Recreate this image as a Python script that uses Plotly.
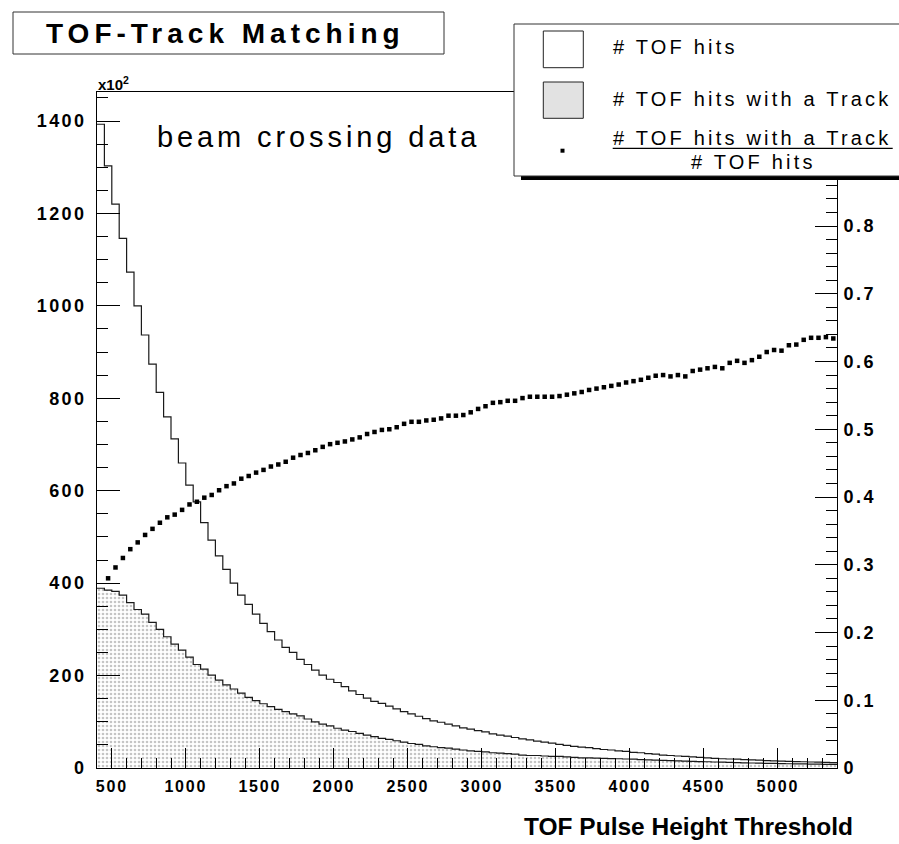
import plotly.graph_objects as go

# ---------------- data ----------------
bin_low = 400          # first bin lower edge
bin_width = 50         # bin width
n_bins = 100

# number of TOF hits per threshold bin (units of 10^2)
tof_hits = [
    1393, 1303, 1220, 1146, 1073, 1000, 937, 874, 813, 760,
    712, 660, 612, 576, 531, 493, 459, 430, 400, 374,
    354, 333, 313, 295, 277, 261, 250, 235, 224, 212,
    201, 192, 185, 176, 167, 159, 151, 144, 140, 134,
    128, 122, 117, 112, 107, 102, 99, 95, 91, 87,
    84, 81, 78, 74, 71, 69, 66, 63, 61, 58,
    56, 54, 51, 49, 47, 45, 44, 42, 40, 39,
    37, 36, 34, 33, 31, 30, 28, 27, 26, 25,
    24, 23, 22, 21, 20, 19.5, 19, 18, 17.5, 17,
    16, 15.5, 15, 14.5, 14, 13.5, 13, 12.5, 12, 11.5,
]

# number of TOF hits with a matched track (units of 10^2)
tof_hits_track = [
    389, 385, 382, 374, 358, 343, 333, 315, 300, 284,
    268, 255, 240, 224, 214, 201, 190, 180, 171, 162,
    153, 146, 139, 133, 127, 122, 117, 113, 106, 100,
    95, 91, 86, 82, 79, 75, 71, 68, 64, 62,
    59, 56, 53, 51, 48, 46, 44, 43, 41, 39,
    37, 36, 35, 33, 32, 31, 30, 28, 27, 27,
    26, 25, 25, 24, 23, 22, 22, 21.5, 21, 20.5,
    20, 19.5, 19, 18, 17.5, 17, 16.5, 16, 15.5, 15,
    14.5, 14, 13.5, 13, 12.5, 12, 11.5, 11, 10.8, 10.5,
    10, 9.8, 9.5, 9.2, 9, 8.8, 8.5, 8.2, 8, 7.8,
]

# ratio (# hits with a track / # hits), first bin has no point
match_ratio = [
    None, 0.280, 0.296, 0.310, 0.323, 0.333, 0.344, 0.353, 0.362, 0.370,
    0.374, 0.381, 0.389, 0.393, 0.399, 0.403, 0.410, 0.416, 0.420, 0.427,
    0.431, 0.436, 0.440, 0.445, 0.448, 0.452, 0.458, 0.462, 0.465, 0.469,
    0.474, 0.478, 0.480, 0.482, 0.485, 0.488, 0.493, 0.496, 0.499, 0.500,
    0.503, 0.508, 0.511, 0.511, 0.513, 0.514, 0.516, 0.520, 0.520, 0.521,
    0.525, 0.530, 0.534, 0.539, 0.540, 0.542, 0.542, 0.546, 0.548, 0.548,
    0.548, 0.548, 0.549, 0.551, 0.553, 0.555, 0.558, 0.560, 0.562, 0.564,
    0.566, 0.569, 0.571, 0.573, 0.576, 0.579, 0.580, 0.578, 0.580, 0.578,
    0.586, 0.588, 0.590, 0.592, 0.590, 0.598, 0.601, 0.598, 0.602, 0.607,
    0.614, 0.617, 0.616, 0.624, 0.625, 0.632, 0.635, 0.635, 0.636, 0.634,
]

x_tick_values = [500, 1000, 1500, 2000, 2500, 3000, 3500, 4000, 4500, 5000]
y_tick_values = [0, 200, 400, 600, 800, 1000, 1200, 1400]
y2_tick_values = [0, 0.1, 0.2, 0.3, 0.4, 0.5, 0.6, 0.7, 0.8, 0.9]
y2_tick_labels = ["0", "0.1", "0.2", "0.3", "0.4", "0.5", "0.6", "0.7", "0.8", "0.9"]

# ---------------- figure ----------------
W, H = 899, 844
L, R, T, B = 97, 837, 92, 768
FONT = "Liberation Sans"


def X(px):
    return (px - L) / (R - L)


def Y(py):
    return (B - py) / (B - T)


def sp(text, ls):
    return f'<span style="letter-spacing:{ls}px">{text}</span>'


edges = [bin_low + bin_width * i for i in range(n_bins + 1)]
centers = [bin_low + bin_width * (i + 0.5) for i in range(n_bins)]

fig = go.Figure()
fig.add_trace(go.Scatter(
    x=edges, y=tof_hits_track + [tof_hits_track[-1]], mode="lines",
    line=dict(shape="hv", color="#1a1a1a", width=1.2),
    fill="tozeroy", fillcolor="white",
    fillpattern=dict(shape=".", fgcolor="#8c8c8c", bgcolor="white", size=4, solidity=0.35),
    hoverinfo="skip",
))
fig.add_trace(go.Scatter(
    x=edges, y=tof_hits + [tof_hits[-1]], mode="lines",
    line=dict(shape="hv", color="#1a1a1a", width=1.2), hoverinfo="skip",
))
fig.add_trace(go.Scatter(
    x=centers, y=match_ratio, mode="markers", yaxis="y2",
    marker=dict(symbol="square", size=4.5, color="black", line=dict(width=0)),
    hoverinfo="skip",
))

tickfont = dict(family=FONT, size=18, color="black", weight="bold")

fig.update_layout(
    width=W, height=H,
    margin=dict(l=L, r=W - R, t=T, b=H - B),
    paper_bgcolor="white", plot_bgcolor="white",
    showlegend=False,
    xaxis=dict(
        range=[400, 5400], tickmode="array", tickvals=x_tick_values,
        ticktext=[sp(str(v), 1.8) for v in x_tick_values],
        ticks="inside", ticklen=20, tickwidth=1, tickcolor="black",
        minor=dict(tickmode="array", tickvals=list(range(400, 5401, 100)),
                   ticks="inside", ticklen=10, tickwidth=1, tickcolor="black"),
        showline=True, linecolor="black", linewidth=1, mirror=True,
        showgrid=False, zeroline=False,
        tickfont=dict(family=FONT, size=16, color="black", weight="bold"),
        ticklabelstandoff=4,
    ),
    yaxis=dict(
        range=[0, 1462.8], tickmode="array", tickvals=y_tick_values,
        ticktext=[sp(str(v), 2.4) for v in y_tick_values],
        ticks="inside", ticklen=23, tickwidth=1, tickcolor="black",
        minor=dict(tickmode="array", tickvals=list(range(0, 1451, 50)),
                   ticks="inside", ticklen=11, tickwidth=1, tickcolor="black"),
        showline=True, linecolor="black", linewidth=1,
        showgrid=False, zeroline=False, tickfont=tickfont,
        ticklabelstandoff=6,
    ),
    yaxis2=dict(
        range=[0, 0.9978], overlaying="y", side="right", tickmode="array",
        tickvals=y2_tick_values, ticktext=[sp(t, 2.4) for t in y2_tick_labels],
        ticks="inside", ticklen=22, tickwidth=1, tickcolor="black",
        minor=dict(tickmode="array", tickvals=[i * 0.02 for i in range(50)],
                   ticks="inside", ticklen=11, tickwidth=1, tickcolor="black"),
        showline=True, linecolor="black", linewidth=1,
        showgrid=False, zeroline=False, tickfont=tickfont,
        ticklabelstandoff=2,
    ),
)

shapes = []
# title box
shapes.append(dict(type="rect", xref="paper", yref="paper", x0=X(13), x1=X(444), y0=Y(12), y1=Y(54),
                   line=dict(color="#333", width=1), fillcolor="white", layer="above"))
# legend shadow and box
shapes.append(dict(type="rect", xref="paper", yref="paper", x0=X(521), x1=X(910), y0=Y(180), y1=Y(176),
                   line=dict(width=0), fillcolor="black", layer="above"))
shapes.append(dict(type="rect", xref="paper", yref="paper", x0=X(514), x1=X(910), y0=Y(176), y1=Y(24),
                   line=dict(color="#333", width=1), fillcolor="white", layer="above"))
# legend symbols
shapes.append(dict(type="rect", xref="paper", yref="paper", x0=X(543.3), x1=X(583.3), y0=Y(67.7), y1=Y(31),
                   line=dict(color="#222", width=1), fillcolor="white", layer="above"))
shapes.append(dict(type="rect", xref="paper", yref="paper", x0=X(543.3), x1=X(583.3), y0=Y(118.3), y1=Y(82),
                   line=dict(color="#222", width=1), fillcolor="#e2e2e2", layer="above"))
shapes.append(dict(type="rect", xref="paper", yref="paper", x0=X(560.5), x1=X(564.5), y0=Y(152.7), y1=Y(148.7),
                   line=dict(width=0), fillcolor="black", layer="above"))
# fraction bar
shapes.append(dict(type="line", xref="paper", yref="paper", x0=X(612.7), x1=X(892.7), y0=Y(148.3), y1=Y(148.3),
                   line=dict(color="black", width=1.3), layer="above"))
fig.update_layout(shapes=shapes)

ann = []
ann.append(dict(text=sp("TOF-Track Matching", 5), x=X(225), y=Y(33), xref="paper", yref="paper",
                xanchor="center", yanchor="middle", showarrow=False,
                font=dict(family=FONT, size=28, color="black", weight="bold")))
ann.append(dict(text="x10<sup>2</sup>", x=X(96), y=Y(84), xref="paper", yref="paper",
                xanchor="left", yanchor="middle", showarrow=False,
                font=dict(family=FONT, size=15, color="black", weight="bold")))
ann.append(dict(text=sp("beam crossing data", 3.9), x=X(155), y=Y(137), xref="paper", yref="paper",
                xanchor="left", yanchor="middle", showarrow=False,
                font=dict(family=FONT, size=29, color="black")))
legend_font = dict(family=FONT, size=20, color="black")
ann.append(dict(text=sp("# TOF hits", 3.2), x=X(611), y=Y(47), xref="paper", yref="paper",
                xanchor="left", yanchor="middle", showarrow=False, font=legend_font))
ann.append(dict(text=sp("# TOF hits with a Track", 3.2), x=X(611), y=Y(99), xref="paper", yref="paper",
                xanchor="left", yanchor="middle", showarrow=False, font=legend_font))
ann.append(dict(text=sp("# TOF hits with a Track", 3.2), x=X(611), y=Y(137.5), xref="paper", yref="paper",
                xanchor="left", yanchor="middle", showarrow=False, font=legend_font))
ann.append(dict(text=sp("# TOF hits", 3.2), x=X(753), y=Y(162), xref="paper", yref="paper",
                xanchor="center", yanchor="middle", showarrow=False, font=legend_font))
ann.append(dict(text="TOF Pulse Height Threshold", x=X(855), y=Y(826), xref="paper", yref="paper",
                xanchor="right", yanchor="middle", showarrow=False,
                font=dict(family=FONT, size=24.5, color="black", weight="bold")))
fig.update_layout(annotations=ann)

fig.write_html(
    "out.html",
    config={"displayModeBar": False},
    post_script="document.body.style.margin='0px';document.body.style.overflow='hidden';",
)
